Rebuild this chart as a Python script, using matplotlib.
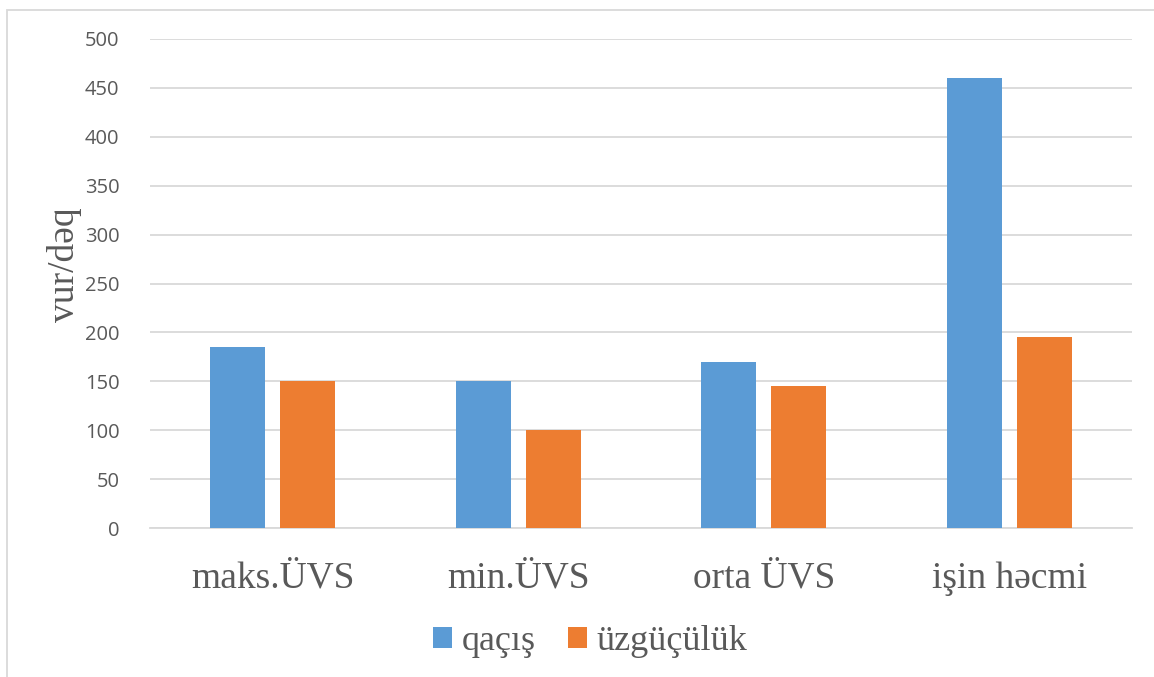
import numpy as np
import matplotlib
matplotlib.use("Agg")
import matplotlib.pyplot as plt
from matplotlib.patches import Rectangle, Patch

categories = ["maks.ÜVS", "min.ÜVS", "orta ÜVS", "işin həcmi"]
series_names = ["qaçış", "üzgüçülük"]
running = [185, 150, 170, 460]
swimming = [150, 100, 145, 195]
y_ticks = [0, 50, 100, 150, 200, 250, 300, 350, 400, 450, 500]

blue = "#5B9BD5"
orange = "#ED7D31"
grid_col = "#D9D9D9"
text_col = "#595959"
serif = ["Liberation Serif", "DejaVu Serif"]
sans = ["Open Sans", "DejaVu Sans"]

fig = plt.figure(figsize=(11.54, 6.77), dpi=100)
W, H = 1154, 677

# outer chart frame
fig.patches.append(Rectangle((7 / W, -0.05), 1.2, 1 - 10 / H + 0.05,
                             transform=fig.transFigure, fill=False,
                             edgecolor=grid_col, linewidth=1.3))

ax = fig.add_axes([150 / W, 1 - 528 / H, (1132 - 150) / W, (528 - 39) / H])
x = np.arange(len(categories))
bw = 0.224
off = 0.1426
ax.bar(x - off, running, width=bw, color=blue, zorder=3, label=series_names[0])
ax.bar(x + off, swimming, width=bw, color=orange, zorder=3, label=series_names[1])

ax.set_xlim(-0.5, len(categories) - 0.5)
ax.set_ylim(0, 500)
ax.set_yticks(y_ticks)
ax.set_yticklabels([str(v) for v in y_ticks], fontfamily=sans, fontsize=14.5, color=text_col)
ax.yaxis.grid(True, color=grid_col, linewidth=1.3, zorder=0)
ax.tick_params(axis="y", length=0, pad=22)
ax.set_xticks(x)
ax.set_xticklabels(categories, fontfamily=serif, fontsize=27, color=text_col)
ax.tick_params(axis="x", length=0, pad=24)
for s in ["left", "right", "top"]:
    ax.spines[s].set_visible(False)
ax.spines["bottom"].set_color(grid_col)
ax.spines["bottom"].set_linewidth(1.3)
ax.set_axisbelow(True)

fig.text(65 / W, 1 - 265 / H, "vur/dəq", rotation=90, ha="center", va="center",
         fontfamily=serif, fontsize=27, color=text_col)

handles = [Patch(facecolor=blue), Patch(facecolor=orange)]
leg = fig.legend(handles, series_names, loc="center", bbox_to_anchor=(590 / W, 1 - 642 / H),
                 ncol=2, frameon=False, prop={"family": serif, "size": 26},
                 handlelength=0.53, handleheight=0.53, handletextpad=0.25, columnspacing=0.9)
for t in leg.get_texts():
    t.set_color(text_col)

fig.savefig("out.png", dpi=100)
